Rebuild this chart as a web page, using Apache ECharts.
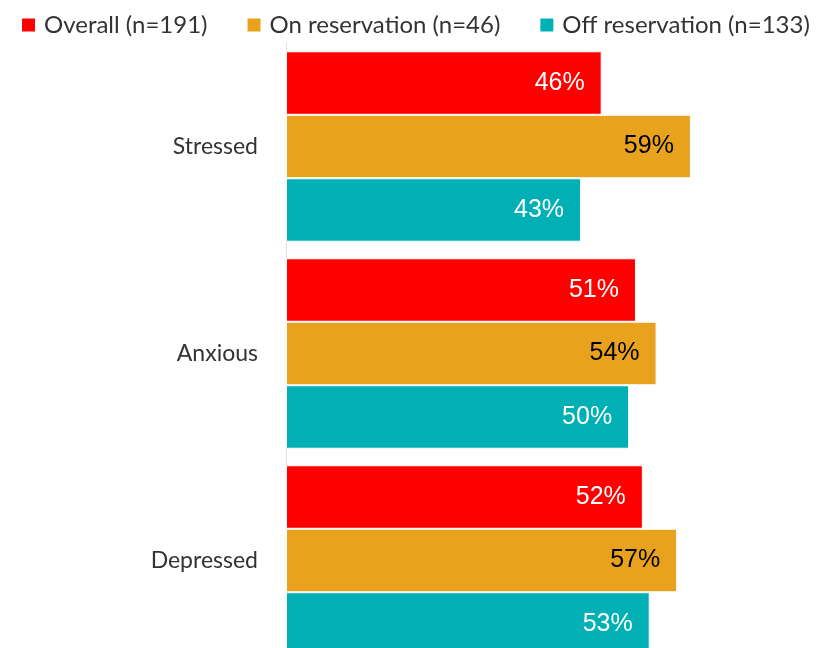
<!DOCTYPE html>
<html>
<head>
<meta charset="utf-8">
<script src="https://cdn.jsdelivr.net/npm/echarts@6/dist/echarts.min.js"></script>
<style>
    html, body { margin: 0; padding: 0; background: #fff; overflow: hidden; }
    #chart { width: 835px; height: 670px; }
</style>
</head>
<body>
<div id="chart"></div>
<script>
// 数据
const categories = ['Stressed', 'Anxious', 'Depressed'];
const seriesNames = ['Overall (n=191)', 'On reservation (n=46)', 'Off reservation (n=133)'];
const overall = [46, 51, 52];
const onReservation = [59, 54, 57];
const offReservation = [43, 50, 53];

const colors = ['#ff0000', '#e8a21e', '#00b0b5'];
const labelColors = ['#ffffff', '#000000', '#ffffff'];
const seriesData = [overall, onReservation, offReservation];

const chart = echarts.init(document.getElementById('chart'));

const option = {
    animation: false,
    legend: {
        left: 15,
        top: 8,
        itemWidth: 15,
        itemHeight: 15,
        itemGap: 38,
        icon: 'rect',
        textStyle: {
            fontFamily: 'Lato',
            fontSize: 24,
            color: '#333',
            padding: [0, 0, 0, 3]
        },
        data: seriesNames
    },
    grid: {
        left: 286,
        top: 43,
        width: 549,
        height: 621,
        containLabel: false
    },
    xAxis: {
        type: 'value',
        min: 0,
        max: 80,
        show: false
    },
    yAxis: {
        type: 'category',
        inverse: true,
        data: categories,
        axisLine: { show: true, lineStyle: { color: '#e0e0e0' } },
        axisTick: { show: false },
        axisLabel: {
            margin: 28,
            fontFamily: 'Lato',
            fontSize: 23,
            color: '#333'
        }
    },
    series: seriesNames.map((name, i) => ({
        name: name,
        type: 'bar',
        data: seriesData[i],
        barGap: 0,
        barCategoryGap: '8%',
        itemStyle: {
            color: colors[i],
            borderColor: '#ffffff',
            borderWidth: 1
        },
        label: {
            show: true,
            position: 'insideRight',
            distance: 17,
            formatter: '{c}%',
            fontFamily: 'Liberation Sans',
            fontSize: 25,
            color: labelColors[i]
        }
    }))
};

chart.setOption(option);
</script>
</body>
</html>
